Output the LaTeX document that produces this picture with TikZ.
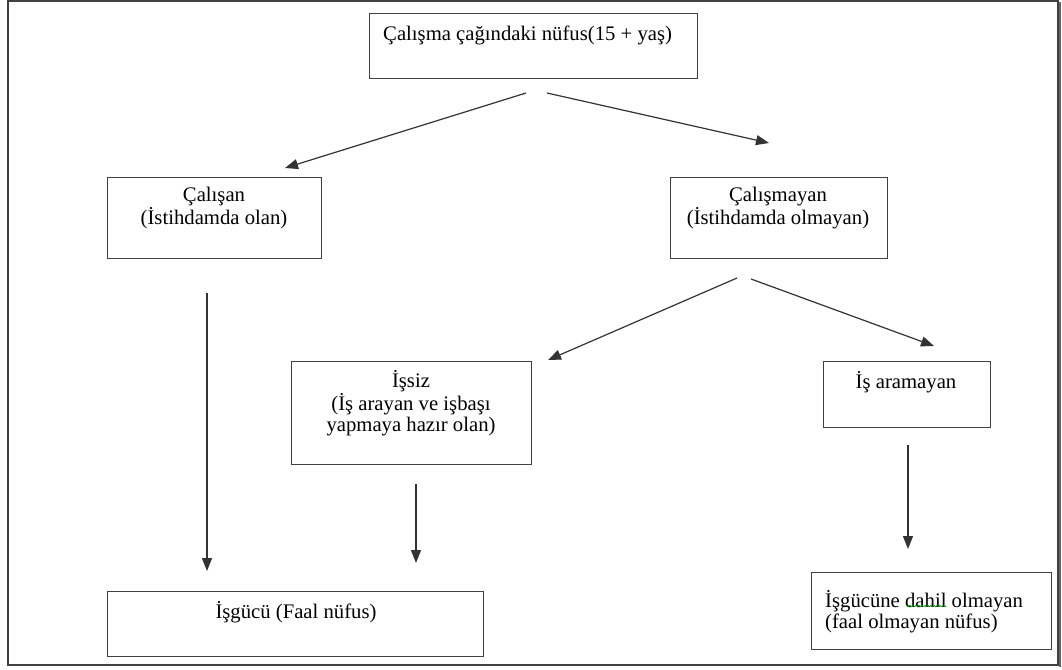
\documentclass[tikz,border=0pt]{standalone}
\usepackage{fontspec}
\setmainfont{Liberation Serif}
\usetikzlibrary{arrows.meta,decorations.pathmorphing}
\begin{document}
\begin{tikzpicture}[x=1pt,y=-1pt,
  box/.style={draw=black!75,line width=1.4pt,inner sep=0pt,anchor=north west},
  txt/.style={inner sep=0pt,font=\fontsize{20.7}{21}\selectfont,align=center},
  arr/.style={draw=black!80,line width=1.2pt,-{Triangle[length=13pt,width=10pt]}}]
\useasboundingbox (0,0) rectangle (1062,669);
\fill[white] (0,0) rectangle (1062,669);
\draw[black!75,line width=1.8pt] (8,1) rectangle (1058,665);
\draw[black!60,line width=1.2pt] (1060,2) -- (1060,667);
% boxes
\node[box,minimum width=328pt,minimum height=65pt] (top) at (369,13) {};
\node[box,minimum width=214pt,minimum height=81pt] (cal) at (107,177) {};
\node[box,minimum width=217pt,minimum height=81pt] (calm) at (670,177) {};
\node[box,minimum width=240pt,minimum height=103pt] (issiz) at (291,361) {};
\node[box,minimum width=167pt,minimum height=66pt] (isar) at (823,361) {};
\node[box,minimum width=376pt,minimum height=65pt] (isg) at (107,591) {};
\node[box,minimum width=240pt,minimum height=77pt] (dahil) at (811,572) {};
% texts
\node[txt,anchor=west] (ttop) at (383,35) {Çalışma çağındaki nüfus(15 + yaş)};
\node[txt] (tcal) at (214,208) {Çalışan\\(İstihdamda olan)};
\node[txt] (tcalm) at (778,208) {Çalışmayan\\(İstihdamda olmayan)};
\node[txt] (tissiz) at (411,403) {İşsiz\\(İş arayan ve işbaşı\\yapmaya hazır olan)};
\node[txt] (tisar) at (906,382) {İş aramayan};
\node[txt] (tisg) at (296,612) {İşgücü (Faal nüfus)};
\node[txt,anchor=west,align=left] (tdahil) at (825,612) {İşgücüne dahil olmayan\\(faal olmayan nüfus)};
\draw[green!60!black,line width=0.6pt,decorate,decoration={snake,amplitude=0.8pt,segment length=3pt}] (906,606) -- (946,606);
% connectors
\coordinate (a1s) at (526,93);  \coordinate (a1e) at (285,168);
\coordinate (a2s) at (547,93);  \coordinate (a2e) at (769,143);
\coordinate (a3s) at (207,293); \coordinate (a3e) at (207,571);
\coordinate (a4s) at (737,278); \coordinate (a4e) at (548,360);
\coordinate (a5s) at (751,279); \coordinate (a5e) at (934,346);
\coordinate (a6s) at (416,484); \coordinate (a6e) at (416,563);
\coordinate (a7s) at (908,445); \coordinate (a7e) at (908,549);
\draw[arr] (a1s) -- (a1e);
\draw[arr] (a2s) -- (a2e);
\draw[arr] (a3s) -- (a3e);
\draw[arr] (a4s) -- (a4e);
\draw[arr] (a5s) -- (a5e);
\draw[arr] (a6s) -- (a6e);
\draw[arr] (a7s) -- (a7e);
\end{tikzpicture}
\end{document}
